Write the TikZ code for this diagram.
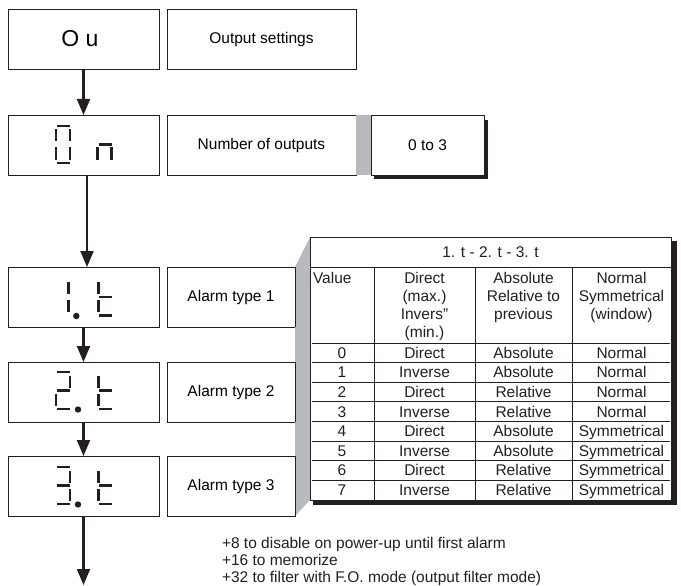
\documentclass[tikz,border=0pt]{standalone}
\usepackage{fontspec}
\setmainfont{Liberation Sans}
\usetikzlibrary{arrows.meta}
\definecolor{wedge}{RGB}{185,186,189}
\definecolor{ink}{RGB}{35,31,32}
\newcommand\SA{\draw[seg] (1,0) -- (14,0);}
\newcommand\SB{\draw[seg] (14,3.5) -- (14,15.5);}
\newcommand\SC{\draw[seg] (14,21.5) -- (14,33.5);}
\newcommand\SD{\draw[seg] (1,37) -- (14,37);}
\newcommand\SE{\draw[seg] (0,21.5) -- (0,33.5);}
\newcommand\SF{\draw[seg] (0,3.5) -- (0,15.5);}
\newcommand\SG{\draw[seg] (1,18.5) -- (14,18.5);}
\newcommand\DP{\fill[ink] (22,37.5) circle (3.2pt);}
\begin{document}
\begin{tikzpicture}[x=1pt,y=-1pt,
  box/.style={draw=ink, line width=0.9pt, fill=white, inner sep=0pt, outer sep=0pt,
    font=\fontsize{15.5}{18}\selectfont},
  arr/.style={draw=ink, line width=2.2pt, -{Triangle[length=16pt,width=13pt]}},
  seg/.style={draw=ink, line width=2.6pt, line cap=butt},
  txt/.style={inner sep=0pt, outer sep=0pt, text=ink, font=\fontsize{15.5}{18}\selectfont},
  tline/.style={draw=ink, line width=0.8pt},
  shadow/.style={fill=ink}]
\useasboundingbox (0,0) rectangle (681,586);

% ---- upper boxes ----
\node[box, minimum width=151pt, minimum height=60pt, font=\fontsize{23}{24}\selectfont] (b1) at (83.5,39) {\hspace*{-7pt}O u};
\node[box, minimum width=189pt, minimum height=60pt] (s1) at (261.5,39) {Output settings};

\node[box, minimum width=151pt, minimum height=60pt] (b2) at (83.5,145) {};
\node[box, minimum width=189pt, minimum height=60pt] (s2) at (261.5,145) {Number of outputs};
\fill[wedge] (s2.north east) rectangle (371,175);
\fill[shadow] (374,175) rectangle (488,178.5);
\fill[shadow] (484,120) rectangle (488,178.5);
\node[box, minimum width=113pt, minimum height=60pt] (v2) at (427.5,145) {0 to 3};

% ---- table shadow and wedge ----
\coordinate (tnw) at (310,237);
\coordinate (tsw) at (310,500);
\fill[shadow] (671,241) rectangle (677,505);
\fill[shadow] (313,500) rectangle (677,505);

% ---- alarm boxes ----
\node[box, minimum width=151pt, minimum height=60pt] (a1) at (83.5,297) {};
\node[box, minimum width=128pt, minimum height=60pt] (t1) at (231,297) {Alarm type 1};
\node[box, minimum width=151pt, minimum height=60pt] (a2) at (83.5,392) {};
\node[box, minimum width=128pt, minimum height=60pt] (t2) at (231,392) {Alarm type 2};
\node[box, minimum width=151pt, minimum height=60pt] (a3) at (83.5,486) {};
\node[box, minimum width=128pt, minimum height=60pt] (t3) at (231,486) {Alarm type 3};

\fill[wedge] (t1.north east) -- (tnw) -- (tsw) -- (t3.south east) -- cycle;
\draw[ink, line width=0.9pt] (t1.north east) -- (t1.south east);
\draw[ink, line width=0.9pt] (t2.north east) -- (t2.south east);
\draw[ink, line width=0.9pt] (t3.north east) -- (t3.south east);

% ---- table ----
\node[draw=ink, line width=0.9pt, fill=white, inner sep=0pt, outer sep=0pt,
  minimum width=361pt, minimum height=263pt] (tab) at (490.5,368.5) {};
\draw[tline] (310,267) -- (671,267);
\foreach \x in {374,475,572} \draw[tline] (\x,267) -- (\x,500);
\foreach \k in {0,...,7} \draw[tline] (312,343+19.6*\k) -- (670,343+19.6*\k);

\node[txt, anchor=base] (ttl) at (490.5,257.5) {1. t - 2. t - 3. t};
\node[txt, anchor=base west] (hv) at (313,283.5) {Value};
\node[txt, anchor=base] (h21) at (424.5,283.5) {Direct};
\node[txt, anchor=base] (h22) at (424.5,301.5) {(max.)};
\node[txt, anchor=base] (h23) at (424.5,319.5) {Invers”};
\node[txt, anchor=base] (h24) at (424.5,337.5) {(min.)};
\node[txt, anchor=base] (h31) at (523.5,283.5) {Absolute};
\node[txt, anchor=base] (h32) at (523.5,301.5) {Relative to};
\node[txt, anchor=base] (h33) at (523.5,319.5) {previous};
\node[txt, anchor=base] (h41) at (621.5,283.5) {Normal};
\node[txt, anchor=base] (h42) at (621.5,301.5) {Symmetrical};
\node[txt, anchor=base] (h43) at (621.5,319.5) {(window)};

\foreach \v/\d/\r/\n [count=\i from 0] in {
  0/Direct/Absolute/Normal,
  1/Inverse/Absolute/Normal,
  2/Direct/Relative/Normal,
  3/Inverse/Relative/Normal,
  4/Direct/Absolute/Symmetrical,
  5/Inverse/Absolute/Symmetrical,
  6/Direct/Relative/Symmetrical,
  7/Inverse/Relative/Symmetrical} {
  \node[txt, anchor=base] (rv\i) at (342,343+19.6*\i+9.8+5.5) {\v};
  \node[txt, anchor=base] (rd\i) at (424.5,343+19.6*\i+9.8+5.5) {\d};
  \node[txt, anchor=base] (rr\i) at (523.5,343+19.6*\i+9.8+5.5) {\r};
  \node[txt, anchor=base] (rn\i) at (621.5,343+19.6*\i+9.8+5.5) {\n};
}

% ---- seven segment displays ----
\begin{scope}[shift={(56,126)}] \SA\SB\SC\SD\SE\SF \end{scope}
\begin{scope}[shift={(97.5,126)}] \SG\SE\SC \end{scope}

\begin{scope}[shift={(54.3,278.5)}] \SB\SC\DP \end{scope}
\begin{scope}[shift={(98.3,278.5)}] \SF\SE\SG\SD \end{scope}

\begin{scope}[shift={(56,372)}] \SA\SB\SG\SE\SD\DP \end{scope}
\begin{scope}[shift={(98.3,372)}] \SF\SE\SG\SD \end{scope}

\begin{scope}[shift={(56,467)}] \SA\SB\SG\SC\SD\DP \end{scope}
\begin{scope}[shift={(98.3,467)}] \SF\SE\SG\SD \end{scope}

% ---- arrows ----
\coordinate (end) at (83.5,585);
\draw[arr] (b1.south) -- (b2.north);
\draw[arr] ([xshift=3.5pt]b2.south) -- ([xshift=3.5pt]a1.north);
\draw[arr] (a1.south) -- (a2.north);
\draw[arr] (a2.south) -- (a3.north);
\draw[arr] (a3.south) -- (end);

% ---- notes ----
\node[txt, anchor=base west] (n1) at (222,548.5) {+8 to disable on power-up until first alarm};
\node[txt, anchor=base west] (n2) at (222,565.5) {+16 to memorize};
\node[txt, anchor=base west] (n3) at (222,582.5) {+32 to filter with F.O. mode (output filter mode)};
\end{tikzpicture}
\end{document}
